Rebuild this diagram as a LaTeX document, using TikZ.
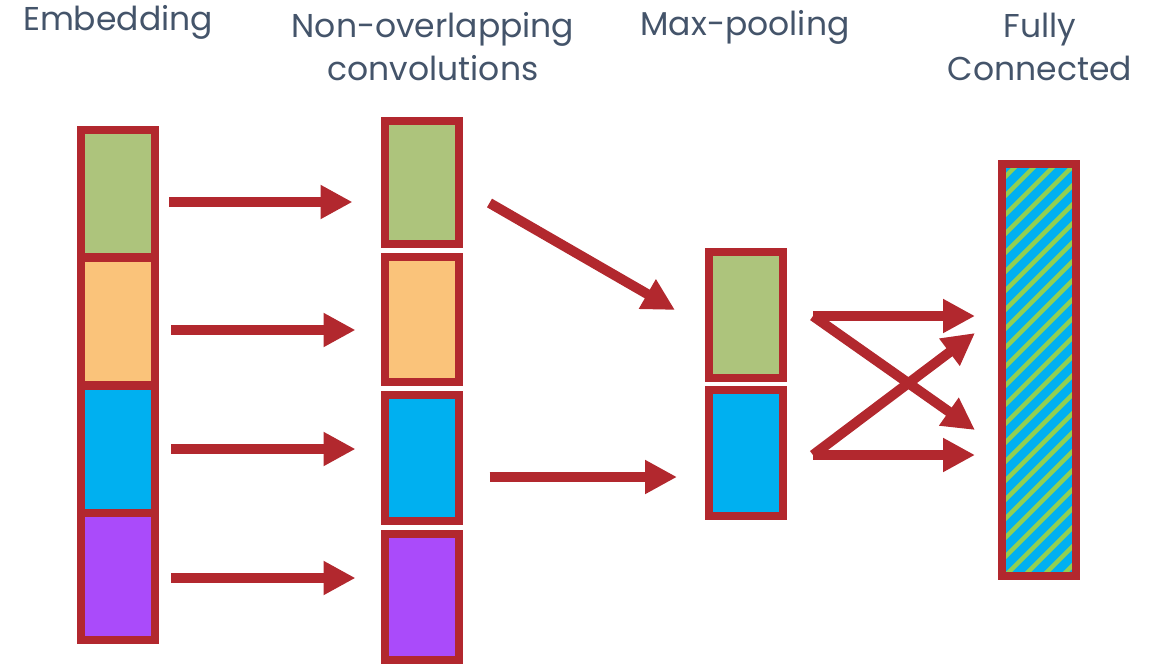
\documentclass[tikz,border=0pt]{standalone}
\usepackage{fontspec}
\setmainfont{Poppins}
\usetikzlibrary{arrows.meta,calc}
\definecolor{bred}{HTML}{B2282E}
\definecolor{cgreen}{HTML}{ADC47C}
\definecolor{corange}{HTML}{FAC37A}
\definecolor{cblue}{HTML}{00B0F0}
\definecolor{cpurple}{HTML}{AA4BFA}
\definecolor{cstripe}{HTML}{92D050}
\definecolor{ctext}{HTML}{44546A}
\begin{document}
\begin{tikzpicture}[x=1pt,y=-1pt,
  cell/.style={draw=bred,line width=8pt,rectangle,inner sep=0pt,minimum width=74pt},
  title/.style={text=ctext,font=\fontsize{33}{43}\selectfont,align=center,inner sep=0pt},
  arr/.style={draw=bred,line width=10pt,-{Triangle[length=32pt,width=32pt]}}]
\useasboundingbox (0,0) rectangle (1152,667);
% titles
\node[title] (t1) at (118,22) {Embedding};
\node[title] (t2) at (433,47) {Non-overlapping\\convolutions};
\node[title] (t3) at (745,27) {Max-pooling};
\node[title] (t4) at (1040,47) {Fully\\Connected};
% embedding
\node[cell,fill=cgreen,minimum height=127pt] (e1) at (118,193.5) {};
\node[cell,fill=corange,minimum height=127pt] (e2) at (118,321) {};
\node[cell,fill=cblue,minimum height=127pt] (e3) at (118,449) {};
\node[cell,fill=cpurple,minimum height=127pt] (e4) at (118,576.5) {};
% convolutions
\node[cell,fill=cgreen,minimum height=123pt] (c1) at (421.5,182.5) {};
\node[cell,fill=corange,minimum height=125pt] (c2) at (421.5,319.5) {};
\node[cell,fill=cblue,minimum height=126pt] (c3) at (421.5,458) {};
\node[cell,fill=cpurple,minimum height=126pt] (c4) at (421.5,597) {};
% max pooling
\node[cell,fill=cgreen,minimum height=126pt] (p1) at (746,315) {};
\node[cell,fill=cblue,minimum height=126pt] (p2) at (746,453) {};
% fully connected
\node[cell,fill=cblue,minimum height=412pt] (f) at (1039,370) {};
\begin{scope}
  \clip ($(f.south west)+(6,-6)$) rectangle ($(f.north east)+(-6,6)$);
  \foreach \k in {-24,...,5}{
    \draw[cstripe,line width=4.5pt] (1000+19*\k,600) -- ++(460,-460);
  }
\end{scope}
\node[cell,minimum height=412pt] at (f) {};
% arrows embedding -> conv
\draw[arr] ($(e1.east)+(10,8.5)$) -- ($(c1.west)+(-28,19.5)$);
\draw[arr] ($(e2.east)+(12,9)$) -- ($(c2.west)+(-25,10.5)$);
\draw[arr] ($(e3.east)+(12,0)$) -- ($(c3.west)+(-25,-9)$);
\draw[arr] ($(e4.east)+(12,1.5)$) -- ($(c4.west)+(-25,-19)$);
% conv -> pool
\draw[arr] ($(c1.east)+(27,20.5)$) -- ($(p1.west)+(-30,-5)$);
\draw[arr] ($(c3.east)+(27,19)$) -- ($(p2.west)+(-28,24)$);
% pool -> fc
\coordinate (s1) at ($(p1.east)+(26,1)$);
\coordinate (s2) at ($(p2.east)+(26,2)$);
\draw[arr] (s1) -- ($(f.west)+(-23,-54)$);
\draw[arr] (s1) -- ($(f.west)+(-23,60)$);
\draw[arr] (s2) -- ($(f.west)+(-23,-37)$);
\draw[arr] (s2) -- ($(f.west)+(-23,85)$);
\end{tikzpicture}
\end{document}
